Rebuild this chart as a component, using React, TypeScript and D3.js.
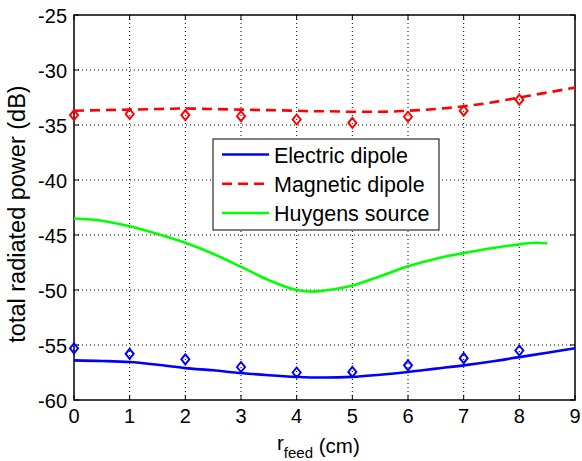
import React, { useEffect, useRef } from 'react'
import * as d3 from 'd3'

// sample points of the three curves (r_feed in cm, power in dB)
const curveX = [0, 0.5, 1, 1.5, 2, 2.5, 3, 3.5, 4, 4.3, 4.5, 5, 5.5, 6, 6.5, 7, 7.5, 8, 8.5, 9]
const electricLine = [-56.4, -56.45, -56.55, -56.8, -57.1, -57.3, -57.55, -57.75, -57.9, -57.95, -57.95, -57.9, -57.7, -57.45, -57.15, -56.85, -56.5, -56.1, -55.7, -55.3]
const magneticLine = [-33.7, -33.65, -33.6, -33.55, -33.5, -33.55, -33.6, -33.65, -33.7, -33.75, -33.75, -33.8, -33.8, -33.7, -33.55, -33.3, -32.95, -32.5, -32.05, -31.6]
const huygensX = [0, 0.5, 1, 1.5, 2, 2.5, 3, 3.5, 4, 4.3, 4.5, 5, 5.5, 6, 6.5, 7, 7.5, 8, 8.3, 8.5]
const huygensLine = [-43.5, -43.7, -44.2, -44.9, -45.7, -46.7, -47.9, -49.1, -50.0, -50.15, -50.05, -49.6, -48.75, -47.85, -47.15, -46.65, -46.2, -45.85, -45.7, -45.75]

// measured points
const markerX = [0, 1, 2, 3, 4, 5, 6, 7, 8]
const electricPts = [-55.3, -55.8, -56.3, -57.0, -57.5, -57.45, -56.85, -56.2, -55.5]
const magneticPts = [-34.1, -34.0, -34.1, -34.2, -34.5, -34.8, -34.25, -33.7, -32.7]

const xTicks = [0, 1, 2, 3, 4, 5, 6, 7, 8, 9]
const yTicks = [-60, -55, -50, -45, -40, -35, -30, -25]
const legendNames = ['Electric dipole', 'Magnetic dipole', 'Huygens source']
const colors = ['#0000ff', '#ff0000', '#00ff00']

export default function App() {
  const ref = useRef<SVGSVGElement>(null)

  useEffect(() => {
    const width = 582, height = 461
    const margin = { left: 74, right: 7, top: 15, bottom: 61 }
    const w = width - margin.left - margin.right
    const h = height - margin.top - margin.bottom
    const font = '"Liberation Sans", Arial, sans-serif'

    const svg = d3.select(ref.current)
    svg.selectAll('*').remove()
    svg.append('rect').attr('width', width).attr('height', height).attr('fill', '#fff')

    const g = svg.append('g').attr('transform', `translate(${margin.left},${margin.top})`)
    const x = d3.scaleLinear().domain([0, 9]).range([0, w])
    const y = d3.scaleLinear().domain([-60, -25]).range([h, 0])

    // grid
    g.append('g').selectAll('line').data(xTicks.slice(1, -1)).join('line')
      .attr('x1', d => x(d)).attr('x2', d => x(d)).attr('y1', 0).attr('y2', h)
      .attr('stroke', '#000').attr('stroke-width', 1).attr('stroke-dasharray', '1,3')
    g.append('g').selectAll('line').data(yTicks.slice(1, -1)).join('line')
      .attr('y1', d => y(d)).attr('y2', d => y(d)).attr('x1', 0).attr('x2', w)
      .attr('stroke', '#000').attr('stroke-width', 1).attr('stroke-dasharray', '1,3')

    // box + ticks
    g.append('rect').attr('width', w).attr('height', h).attr('fill', 'none').attr('stroke', '#000').attr('stroke-width', 1.5)
    const tl = 5
    g.append('g').selectAll('path').data(xTicks).join('path')
      .attr('d', d => `M${x(d)},${h}v${-tl}M${x(d)},0v${tl}`).attr('stroke', '#000')
    g.append('g').selectAll('path').data(yTicks).join('path')
      .attr('d', d => `M0,${y(d)}h${tl}M${w},${y(d)}h${-tl}`).attr('stroke', '#000')

    g.append('g').selectAll('text').data(xTicks).join('text')
      .attr('x', d => x(d)).attr('y', h + 23).attr('text-anchor', 'middle')
      .attr('font-family', font).attr('font-size', 20).text(d => d)
    g.append('g').selectAll('text').data(yTicks).join('text')
      .attr('x', -7).attr('y', d => y(d)).attr('dy', '0.4em').attr('text-anchor', 'end')
      .attr('font-family', font).attr('font-size', 20).text(d => d)

    // axis labels
    const xl = svg.append('text').attr('x', 277).attr('y', 450)
      .attr('font-family', font).attr('font-size', 20.5)
    xl.append('tspan').text('r')
    xl.append('tspan').attr('font-size', 15).attr('dy', 8).text('feed')
    xl.append('tspan').attr('dy', -5).text(' (cm)')

    svg.append('text').attr('transform', `translate(25,214) rotate(-90)`)
      .attr('text-anchor', 'middle').attr('font-family', font).attr('font-size', 23.5)
      .text('total radiated power (dB)')

    const line = d3.line<[number, number]>().x(d => x(d[0])).y(d => y(d[1])).curve(d3.curveMonotoneX)
    const curves = g.append('g')

    curves.append('path').datum(curveX.map((v, i) => [v, electricLine[i]] as [number, number]))
      .attr('d', line).attr('fill', 'none').attr('stroke', colors[0]).attr('stroke-width', 2.6)
    curves.append('path').datum(curveX.map((v, i) => [v, magneticLine[i]] as [number, number]))
      .attr('d', line).attr('fill', 'none').attr('stroke', colors[1]).attr('stroke-width', 2.6)
      .attr('stroke-dasharray', '10,6')
    curves.append('path').datum(huygensX.map((v, i) => [v, huygensLine[i]] as [number, number]))
      .attr('d', line).attr('fill', 'none').attr('stroke', colors[2]).attr('stroke-width', 2.6)

    const diamond = 'M0,-5L4,0L0,5L-4,0Z'
    const drawMarkers = (vals: number[], c: string) => {
      g.append('g').selectAll('path').data(vals).join('path')
        .attr('transform', (d, i) => `translate(${x(markerX[i])},${y(d)})`)
        .attr('d', diamond).attr('fill', 'none').attr('stroke', c).attr('stroke-width', 2)
    }
    drawMarkers(electricPts, colors[0])
    drawMarkers(magneticPts, colors[1])

    // legend
    const lg = svg.append('g').attr('transform', 'translate(213,139)')
    lg.append('rect').attr('width', 226).attr('height', 91).attr('fill', '#fff').attr('stroke', '#000').attr('stroke-width', 1)
    legendNames.forEach((n, i) => {
      const yy = 15.5 + i * 29.2
      lg.append('line').attr('x1', 9).attr('x2', 56).attr('y1', yy).attr('y2', yy)
        .attr('stroke', colors[i]).attr('stroke-width', 2.5)
        .attr('stroke-dasharray', i === 1 ? '10,6' : null)
      lg.append('text').attr('x', 61).attr('y', yy + 8.5)
        .attr('font-family', font).attr('font-size', 21.5).text(n)
    })
  }, [])

  return (
    <svg ref={ref} width={582} height={461} style={{ position: 'absolute', left: 0, top: 0 }} />
  )
}
